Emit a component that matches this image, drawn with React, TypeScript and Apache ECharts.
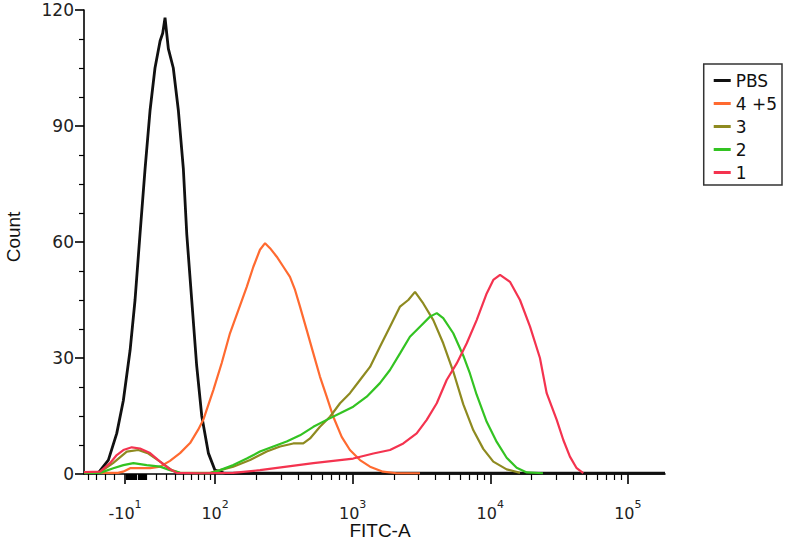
import React, { useEffect, useRef } from 'react';
import * as echarts from 'echarts';

// ---- Data (x in biexponential display decades, y = event count) ----
const seriesNames = ['PBS', '4 +5', '3', '2', '1'];
const seriesColors = ['#111111', '#ff6a30', '#8e8a20', '#33c322', '#f4334f'];

const pbsX = [1.047, 1.151, 1.224, 1.285, 1.333, 1.382, 1.418, 1.454, 1.491, 1.527, 1.563, 1.6, 1.619, 1.636, 1.66, 1.696, 1.733, 1.769, 1.794, 1.83, 1.866, 1.903, 1.951, 1.999, 2.072, 5.27];
const pbsCount = [0.3, 0.3, 3.6, 10.5, 19, 32, 45, 62, 79, 94, 105, 112, 114, 118, 110, 105, 94, 79, 62, 45, 28, 15, 5.4, 1, 0.2, 0.2];

const mix45X = [1.047, 1.294, 1.331, 1.382, 1.454, 1.527, 1.6, 1.672, 1.745, 1.818, 1.876, 1.914, 1.987, 2.048, 2.108, 2.169, 2.23, 2.278, 2.326, 2.363, 2.399, 2.448, 2.496, 2.544, 2.581, 2.617, 2.666, 2.714, 2.762, 2.811, 2.859, 2.92, 2.98, 3.053, 3.126, 3.22, 3.32, 3.489];
const mix45Count = [0.3, 0.3, 0.6, 1.5, 1.5, 1.5, 1.9, 3.4, 5.4, 8, 11.4, 14, 21.7, 28.7, 36.4, 42.4, 48.4, 53.6, 58, 59.7, 58.4, 56.2, 53.6, 51, 47.6, 43.3, 37.2, 31.2, 25.2, 20, 14.8, 9.6, 6.2, 3.6, 1.9, 0.6, 0.2, 0.2];

const s3X = [1.047, 1.164, 1.258, 1.358, 1.442, 1.515, 1.6, 1.685, 1.745, 1.963, 2.132, 2.254, 2.375, 2.472, 2.568, 2.641, 2.69, 2.762, 2.835, 2.908, 2.98, 3.053, 3.126, 3.198, 3.271, 3.344, 3.404, 3.453, 3.513, 3.586, 3.658, 3.731, 3.804, 3.877, 3.949, 4.022, 4.119, 4.216];
const s3Count = [0.3, 0.5, 2.8, 5.8, 6.2, 5.3, 3.2, 1, 0.3, 0.3, 1.9, 3.6, 5.8, 7.1, 7.9, 7.9, 9.2, 12.2, 14.8, 18.3, 20.9, 24.3, 27.7, 32.9, 38.1, 43.3, 45, 47.1, 44.1, 39.8, 33.8, 26.5, 18, 11.3, 6.5, 3.2, 1.2, 0.3];

const s2X = [1.047, 1.164, 1.26, 1.333, 1.406, 1.503, 1.6, 1.672, 1.745, 1.963, 2.036, 2.132, 2.23, 2.326, 2.423, 2.52, 2.617, 2.714, 2.811, 2.908, 3.004, 3.102, 3.198, 3.271, 3.344, 3.416, 3.489, 3.562, 3.611, 3.658, 3.731, 3.804, 3.852, 3.901, 3.974, 4.047, 4.119, 4.192, 4.265, 4.383];
const s2Count = [0.3, 0.3, 1.5, 2.3, 2.8, 2.3, 1.9, 1, 0.3, 0.2, 1, 2.3, 4, 5.8, 7.1, 8.4, 10, 12.2, 14, 15.7, 17.4, 20, 23.5, 26.9, 31.2, 35.5, 38.1, 40.7, 41.6, 40.3, 36.4, 30.6, 26, 20.5, 13.5, 8.3, 4.2, 1.6, 0.4, 0.2];

const s1X = [1.047, 1.164, 1.236, 1.285, 1.333, 1.394, 1.454, 1.527, 1.6, 1.66, 1.721, 1.89, 2.132, 2.326, 2.52, 2.714, 2.859, 3.004, 3.15, 3.271, 3.368, 3.465, 3.538, 3.611, 3.683, 3.756, 3.829, 3.901, 3.974, 4.022, 4.071, 4.143, 4.216, 4.289, 4.361, 4.41, 4.483, 4.531, 4.579, 4.628, 4.676];
const s1Count = [0.5, 0.6, 2.8, 4.9, 6.2, 6.9, 6.6, 5.4, 3.2, 1.5, 0.3, 0.2, 0.3, 1, 1.9, 2.8, 3.4, 4, 5.3, 6.2, 7.9, 10.5, 14, 18.3, 24.3, 28.6, 33.8, 39.8, 46.7, 50.2, 51.5, 49.7, 45, 38.1, 30, 20.9, 14, 8.8, 4.5, 1.5, 0.2];

const seriesX = [pbsX, mix45X, s3X, s2X, s1X];
const seriesCount = [pbsCount, mix45Count, s3Count, s2Count, s1Count];

// ---- Axis ticks (FITC-A values) ----
const majorTickValues = [-10, 100, 1000, 10000, 100000];
const majorTickExponents = ['1', '2', '3', '4', '5'];
const majorTickSigns = ['-', '', '', '', ''];
const minorTickValues = [
  -50, -40, -30, -20, -9, -8, -7, -6, -5, -4, -3, -2, -1, 0, 1, 2, 3, 4, 5, 6, 7, 8, 9, 10,
  20, 30, 40, 50, 60, 70, 80, 90,
  200, 300, 400, 500, 600, 700, 800, 900,
  2000, 3000, 4000, 5000, 6000, 7000, 8000, 9000,
  20000, 30000, 40000, 50000, 60000, 70000, 80000, 90000,
];
const yTicks = { min: 0, max: 120, interval: 30 };

const X_MIN = 1.047;
const X_MAX = 5.27;

// biexponential-like display transform
const LIN_C = 27;
const LIN_S = 0.967;
function asinhPart(v: number) {
  return Math.asinh(v / (2 * LIN_C)) / Math.LN10;
}
function toDisplay(v: number) {
  if (v >= 100) return Math.log10(v);
  return 2 - (asinhPart(100) - asinhPart(v)) * LIN_S;
}

export default function App() {
  const ref = useRef<HTMLDivElement>(null);

  useEffect(() => {
    document.body.style.margin = '0';
    if (!ref.current) return;
    const chart = echarts.init(ref.current, undefined, { renderer: 'svg' });

    const majorD = majorTickValues.map(toDisplay);
    const minorD = minorTickValues.map(toDisplay).filter((d) => d >= X_MIN && d <= X_MAX);

    const axisLineStyle = { color: '#000', width: 1.6 };

    const option: any = {
      animation: false,
      backgroundColor: '#fff',
      grid: { left: 84, right: 125, top: 10, bottom: 70 },
      xAxis: [
        {
          type: 'value',
          min: X_MIN,
          max: X_MAX,
          position: 'bottom',
          axisLine: { show: true, onZero: false, lineStyle: axisLineStyle },
          axisTick: { show: true, customValues: majorD, length: 10, lineStyle: { color: '#000', width: 1.6 } },
          axisLabel: {
            show: true,
            customValues: majorD,
            margin: 25,
            formatter: (val: number) => {
              let best = 0;
              let bestDist = Infinity;
              majorD.forEach((d, i) => {
                const dist = Math.abs(d - val);
                if (dist < bestDist) {
                  bestDist = dist;
                  best = i;
                }
              });
              return `{b|${majorTickSigns[best]}10}{s|${majorTickExponents[best]}}`;
            },
            rich: {
              b: { fontSize: 16, fontFamily: 'DejaVu Sans', color: '#222', lineHeight: 22, verticalAlign: 'bottom' },
              s: { fontSize: 11, fontFamily: 'DejaVu Sans', color: '#222', lineHeight: 11, verticalAlign: 'top' },
            },
          },
          splitLine: { show: false },
        },
        {
          type: 'value',
          min: X_MIN,
          max: X_MAX,
          position: 'bottom',
          axisLine: { show: false, onZero: false },
          axisTick: { show: true, customValues: minorD, length: 6, lineStyle: { color: '#000', width: 1.2 } },
          axisLabel: { show: false },
          splitLine: { show: false },
        },
      ],
      yAxis: {
        type: 'value',
        min: yTicks.min,
        max: yTicks.max,
        interval: yTicks.interval,
        axisLine: { show: true, lineStyle: axisLineStyle },
        axisTick: { show: true, length: 9, lineStyle: { color: '#000', width: 1.6 } },
        minorTick: { show: true, splitNumber: 4, length: 5, lineStyle: { color: '#000', width: 1.2 } },
        axisLabel: { margin: 10, fontSize: 17, fontFamily: 'DejaVu Sans', color: '#222' },
        splitLine: { show: false },
        minorSplitLine: { show: false },
      },
      legend: {
        data: seriesNames,
        orient: 'vertical',
        right: 8,
        top: 64,
        icon: 'rect',
        itemWidth: 17,
        itemHeight: 3,
        itemGap: 6,
        padding: [8, 5, 4, 10],
        borderColor: '#333',
        borderWidth: 1.5,
        backgroundColor: '#fff',
        textStyle: { fontSize: 17, lineHeight: 17, fontFamily: 'DejaVu Sans', color: '#111' },
      },
      graphic: [
        {
          type: 'text',
          x: 13,
          y: 237,
          rotation: Math.PI / 2,
          style: {
            text: 'Count',
            fontSize: 19,
            fontFamily: 'Liberation Sans',
            fill: '#111',
            align: 'center',
            verticalAlign: 'middle',
          },
        },
        {
          type: 'text',
          x: 380,
          y: 530,
          style: {
            text: 'FITC-A',
            fontSize: 19,
            fontFamily: 'Liberation Sans',
            fill: '#111',
            align: 'center',
            verticalAlign: 'middle',
          },
        },
      ],
      series: seriesNames.map((name, i) => ({
        name,
        type: 'line',
        xAxisIndex: 0,
        symbol: 'none',
        showSymbol: false,
        color: seriesColors[i],
        lineStyle: { color: seriesColors[i], width: i === 0 ? 2.8 : 2.2 },
        z: 2 + i,
        data: seriesX[i].map((x, j) => [x, seriesCount[i][j]]),
      })),
    };

    chart.setOption(option);
    return () => chart.dispose();
  }, []);

  return <div ref={ref} style={{ width: 790, height: 544 }} />;
}
